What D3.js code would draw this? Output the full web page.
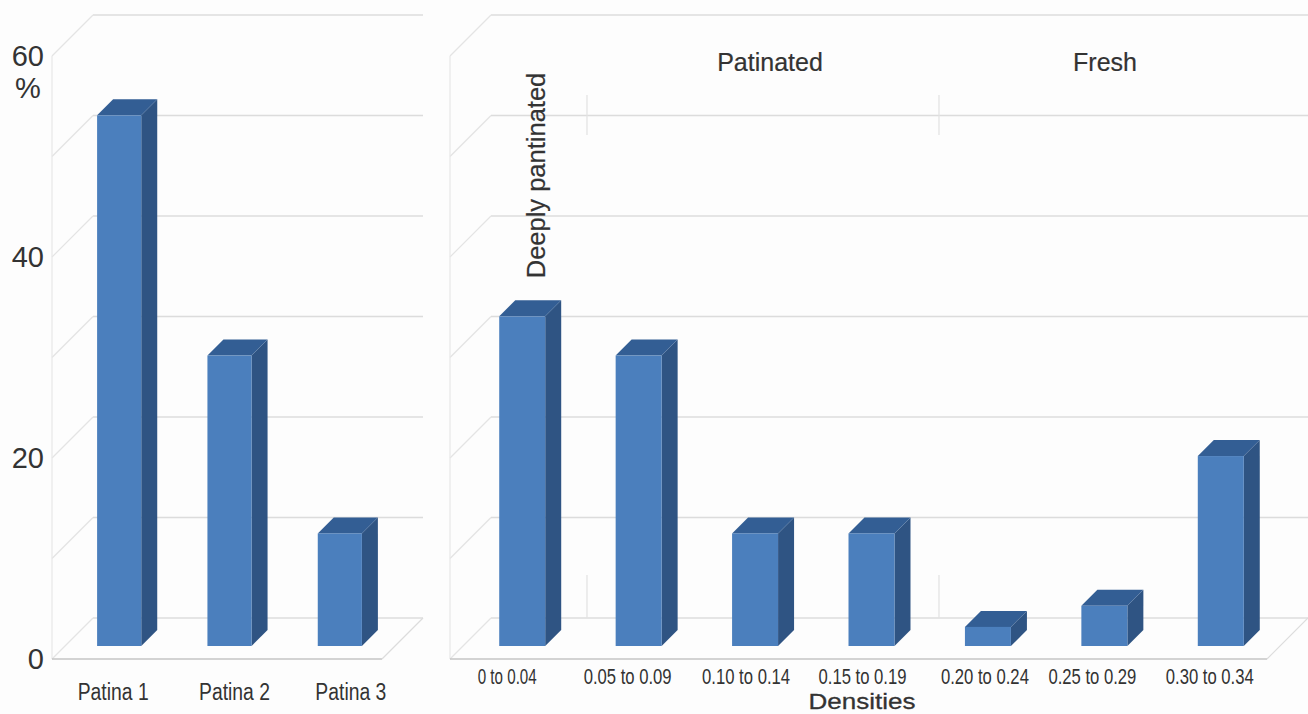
<!DOCTYPE html>
<html>
<head>
<meta charset="utf-8">
<style>
  html, body { margin: 0; background: #fff; }
  text { font-family: "Liberation Sans", Arial, sans-serif; fill: #333; }
</style>
<script src="https://cdn.jsdelivr.net/npm/d3@7"></script>
</head>
<body>
<div class="container"></div>
<script>
var patinaNames = ['Patina 1', 'Patina 2', 'Patina 3'];
var patinaValues = [52.8, 28.9, 11.2];
var densityNames = ['0 to 0.04', '0.05 to 0.09', '0.10 to 0.14', '0.15 to 0.19', '0.20 to 0.24', '0.25 to 0.29', '0.30 to 0.34'];
var densityValues = [32.8, 28.9, 11.2, 11.2, 1.9, 4, 18.9];
var gridValues = [0, 10, 20, 30, 40, 50, 60];
var tickValues = [0, 20, 40, 60];

var width = 1308, height = 714;
var depth = 16, wallDepth = 41, barFront = 28;

// the labels were placed by hand in the original, they don't sit under the bars
var patinaShift = [-6, 5, 11];
var densityShift = [-15, -11, -9, -9, -3, -12, -11];

var svg = d3.select('.container')
    .append('svg')
    .attr('width', width)
    .attr('height', height)
    .style('display', 'block');

svg.append('rect')
    .attr('width', width)
    .attr('height', height)
    .attr('fill', '#fdfdfd');

// y is the back wall of the box, the front of the box sits wallDepth lower
var y = d3.scaleLinear().domain([0, 60]).range([618, 15]);
var yFront = d3.scaleLinear().domain([0, 60]).range([618 + wallDepth, 15 + wallDepth]);

function drawBox(x0, x1) {
    var g = svg.append('g');

    g.selectAll('.grid').data(gridValues).enter().append('line')
        .attr('x1', x0 + wallDepth).attr('x2', x1)
        .attr('y1', d => y(d)).attr('y2', d => y(d))
        .style('stroke', '#dcdcdc').style('stroke-width', 1.5);

    g.selectAll('.wall').data(gridValues).enter().append('line')
        .attr('x1', x0).attr('x2', x0 + wallDepth)
        .attr('y1', d => yFront(d)).attr('y2', d => y(d))
        .style('stroke', '#e4e4e4').style('stroke-width', 1.2);

    g.append('line')
        .attr('x1', x0).attr('x2', x0)
        .attr('y1', yFront(60)).attr('y2', yFront(0))
        .style('stroke', '#e8e8e8').style('stroke-width', 1.2);

    // floor
    g.append('line')
        .attr('x1', x0).attr('x2', x1 - wallDepth)
        .attr('y1', yFront(0)).attr('y2', yFront(0))
        .style('stroke', '#c4c4c4').style('stroke-width', 1.5);
    g.append('line')
        .attr('x1', x1 - wallDepth).attr('x2', x1)
        .attr('y1', yFront(0)).attr('y2', y(0))
        .style('stroke', '#dcdcdc').style('stroke-width', 1.2);
}

function drawBars(names, values, x) {
    var w = x.bandwidth();
    var base = y(0) + barFront;
    var bars = svg.append('g').selectAll('g')
        .data(values).enter().append('g')
        .attr('transform', (d, i) => 'translate(' + x(names[i]) + ',0)');

    // side
    bars.append('path')
        .attr('d', d => {
            var t = y(d) + barFront;
            return 'M' + w + ',' + t + 'l' + depth + ',' + (-depth) +
                'V' + (base - depth) + 'l' + (-depth) + ',' + depth + 'Z';
        })
        .attr('fill', '#2f5483');
    // top
    bars.append('path')
        .attr('d', d => {
            var t = y(d) + barFront;
            return 'M0,' + t + 'l' + depth + ',' + (-depth) + 'h' + w + 'l' + (-depth) + ',' + depth + 'Z';
        })
        .attr('fill', '#335e94');
    // front
    bars.append('rect')
        .attr('y', d => y(d) + barFront)
        .attr('width', w)
        .attr('height', d => base - y(d) - barFront)
        .attr('fill', '#4b7fbd');
}

// squeezes a label to the width it has in the picture
function fitLabel(sel, px, py, size, len) {
    sel.style('font-size', size + 'px').attr('text-anchor', 'middle');
    var natural = sel.node().getComputedTextLength();
    sel.attr('transform', 'translate(' + px + ',' + py + ') scale(' + (len / natural) + ',1)');
}

drawBox(52, 423);
drawBox(450, 1308);

// faint marks splitting the density classes
var splitX = d3.scalePoint().domain(['deep', 'fresh']).range([587, 939]);
splitX.domain().forEach(function(k) {
    [[95, 135], [575, 618]].forEach(function(r) {
        svg.append('line')
            .attr('x1', splitX(k)).attr('x2', splitX(k))
            .attr('y1', r[0]).attr('y2', r[1])
            .style('stroke', '#e2e2e2').style('stroke-width', 1.2);
    });
});

var xPatina = d3.scaleBand().domain(patinaNames).range([64, 395]).paddingInner(0.6).paddingOuter(0.3);
var xDensity = d3.scaleBand().domain(densityNames).range([464, 1279]).paddingInner(0.605).paddingOuter(0.3025);

drawBars(patinaNames, patinaValues, xPatina);
drawBars(densityNames, densityValues, xDensity);

// y axis numbers
var yAxis = svg.append('g')
    .attr('transform', 'translate(44,0)')
    .call(d3.axisLeft(yFront).tickValues(tickValues).tickSize(0).tickPadding(0));
yAxis.select('.domain').remove();
yAxis.selectAll('text')
    .style('font-family', '"Liberation Sans", Arial, sans-serif')
    .style('font-size', '29px')
    .style('fill', '#333');

svg.append('text').attr('x', 28).attr('y', 98)
    .attr('text-anchor', 'middle').style('font-size', '29px').text('%');

// category labels
svg.append('g').selectAll('text').data(patinaNames).enter().append('text')
    .text(d => d)
    .each(function(d, i) {
        fitLabel(d3.select(this), xPatina(d) + xPatina.bandwidth() / 2 + patinaShift[i], 700, 24, 71);
    });

svg.append('g').selectAll('text').data(densityNames).enter().append('text')
    .text(d => d)
    .each(function(d, i) {
        fitLabel(d3.select(this), xDensity(d) + xDensity.bandwidth() / 2 + densityShift[i], 684, 21.5, i == 0 ? 59 : 88);
    });

svg.append('text').text('Densities')
    .style('stroke', '#333').style('stroke-width', 0.3)
    .call(fitLabel, 862, 709, 22, 107);
svg.append('text').attr('x', 770).attr('y', 71)
    .attr('text-anchor', 'middle').style('font-size', '25px').style('stroke', '#333').style('stroke-width', 0.2).text('Patinated');
svg.append('text').attr('x', 1105).attr('y', 71)
    .attr('text-anchor', 'middle').style('font-size', '25px').style('stroke', '#333').style('stroke-width', 0.2).text('Fresh');
svg.append('text')
    .attr('transform', 'translate(545,175.5) rotate(-90)')
    .attr('text-anchor', 'middle').style('font-size', '25.5px').style('stroke', '#333').style('stroke-width', 0.2).text('Deeply pantinated');
</script>
</body>
</html>
